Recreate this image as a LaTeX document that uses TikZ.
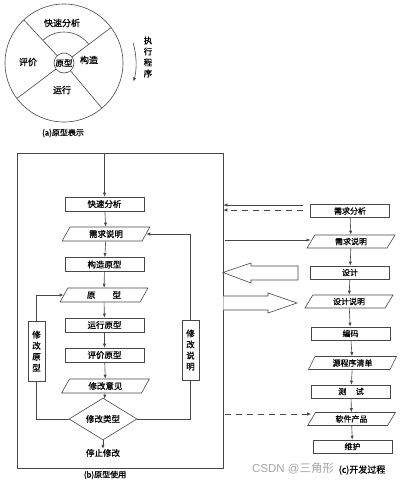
\documentclass[tikz,border=0pt]{standalone}
\usepackage{fontspec}
\setmainfont{Noto Sans CJK SC}[FakeBold=0.8]
\newfontfamily\wmfont{Liberation Sans}
\newfontfamily\wmcjk{Noto Sans CJK SC}
\usetikzlibrary{shapes.geometric,arrows.meta,calc}
\begin{document}
\begin{tikzpicture}[x=1pt,y=-1pt,
  line/.style={draw=black!72, line width=0.6pt},
  arr/.style={line, -{Latex[length=4pt,width=3.2pt]}},
  box/.style={line, rectangle, minimum width=79pt, minimum height=14pt, inner sep=0pt, font=\fontsize{8.5}{9}\selectfont},
  cbox/.style={box, minimum width=79pt, minimum height=13pt, font=\fontsize{8}{9}\selectfont},
  para/.style={line, trapezium, trapezium left angle=65, trapezium right angle=115, trapezium stretches=true, minimum width=88pt, minimum height=14pt, inner sep=0pt, font=\fontsize{8.5}{9}\selectfont},
  cpara/.style={para, minimum height=13pt, font=\fontsize{8}{9}\selectfont},
  vbox/.style={line, fill=white, rectangle, minimum width=17pt, minimum height=60pt, inner sep=0pt, align=center, font=\fontsize{8.5}{11}\selectfont},
  lbl/.style={inner sep=0pt, font=\fontsize{9}{10}\selectfont},
  captext/.style={inner sep=0pt, font=\fontsize{8}{9}\selectfont},
]
\useasboundingbox[fill=white] (0,0) rectangle (400,485);
% ---------- (a) ----------
\coordinate (c) at (64,63);
\draw[line] (c) circle[radius=59pt];
\node[line, circle, minimum size=20pt, inner sep=0pt, font=\fontsize{8.5}{9}\selectfont] (core) at (c) {原型};
\draw[line] ($(c)+(133:10pt)$) -- ($(c)+(133:59pt)$);
\draw[line] ($(c)+(-50:10pt)$) -- ($(c)+(-50:59pt)$);
\draw[line] ($(c)+(37:10pt)$) -- ($(c)+(37:59pt)$);
\draw[line] ($(c)+(217:10pt)$) -- ($(c)+(217:59pt)$);
\draw[line] ($(c)+(37:31pt)$) arc[start angle=37, end angle=133, radius=31pt];
\node[lbl] (qa) at (62,23) {快速分析};
\node[lbl] (pj) at (28,62) {评价};
\node[lbl] (gz) at (89,60) {构造};
\node[lbl] (yx) at (62,90) {运行};
\node[captext] (capa) at (63,133) {(a)原型表示};
\draw[line, -{Latex[length=4pt,width=3.2pt]}] ($(c)+(16:72pt)$) arc[start angle=16, end angle=-15, radius=72pt];
\node[lbl, align=center, font=\fontsize{8.5}{11}\selectfont] (zx) at (148,57) {执\\行\\程\\序};
% ---------- (b) ----------
\node[line, rectangle, minimum width=206pt, minimum height=315pt, inner sep=0pt] (B) at (120,310.5) {};
\coordinate (btop) at (104.5,153);
\node[box] (b1) at (104.5,204) {快速分析};
\node[para] (b2) at (106,234) {需求说明};
\node[box] (b3) at (104.5,264.5) {构造原型};
\node[para] (b4) at (104,295) {原\hspace{2em}型};
\node[box] (b5) at (104.5,325) {运行原型};
\node[box] (b6) at (104.5,355) {评价原型};
\node[para] (b7) at (105.5,386) {修改意见};
\node[line, diamond, minimum width=68pt, minimum height=24pt, inner sep=0pt, font=\fontsize{8.5}{9}\selectfont] (b8) at (103,419) {修改类型};
\node[lbl, font=\fontsize{8.5}{9}\selectfont] (b9) at (103,453) {停止修改};
\draw[arr] (btop) -- (b1);
\draw[arr] (b1) -- (b2);
\draw[arr] (b2) -- (b3);
\draw[arr] (b3) -- (b4);
\draw[arr] (b4) -- (b5);
\draw[arr] (b5) -- (b6);
\draw[arr] (b6) -- (b7);
\draw[arr] (b7) -- (b8);
\draw[arr] (b8) -- (b9);
\coordinate (lx) at (36.5,419);
\coordinate (rx) at (190.5,419);
\draw[arr] (b8.west) -- (lx) |- (b4.west);
\draw[arr] (b8.east) -- (rx) |- (b2.east);
\node[vbox] (xy) at (36.5,351) {修\\改\\原\\型};
\node[vbox] (xs) at (190.5,350) {修\\改\\说\\明};
\node[captext] (capb) at (105,475) {(b)原型使用};
% ---------- (c) ----------
\node[cbox] (c1) at (350,211) {需求分析};
\node[cpara] (c2) at (351,241.5) {需求说明};
\node[cbox] (c3) at (350,272.5) {设计};
\node[cpara] (c4) at (349,301.5) {设计说明};
\node[cbox] (c5) at (350.5,333.5) {编码};
\node[cpara] (c6) at (352.5,363) {源程序清单};
\node[cbox] (c7) at (351,391.5) {测\hspace{1.2em}试};
\node[cpara] (c8) at (351.5,419) {软件产品};
\node[cbox] (c9) at (352.5,446.5) {维护};
\draw[arr] (c1) -- (c2);
\draw[arr] (c2) -- (c3);
\draw[arr] (c3) -- (c4);
\draw[arr] (c4) -- (c5);
\draw[arr] (c5) -- (c6);
\draw[arr] (c6) -- (c7);
\draw[arr] (c7) -- (c8);
\draw[arr] (c8) -- (c9);
\node[captext, font=\fontsize{9}{10}\selectfont] (capc) at (362,470) {(c)开发过程};
% ---------- links ----------
\coordinate (s1) at (303,205);
\coordinate (s2) at (303,210);
\coordinate (s3) at (225,240);
\coordinate (s4) at (225,414);
\draw[arr] (s1) -- (B.east |- s1);
\draw[arr, dash pattern=on 6pt off 5pt] (s2) -- (B.east |- s2);
\draw[arr] (s3) -- (c2.west |- s3);
\draw[arr, dash pattern=on 6pt off 5pt] (s4) -- (c8.west |- s4);
\draw[line, fill=white] (223,272.5) -- (251,263) -- (251,266) -- (298,266) -- (298,280) -- (251,280) -- (251,283) -- cycle;
\draw[line, fill=white] (223.3,296) -- (268,296) -- (268,293) -- (297,303) -- (268,313) -- (268,310) -- (223.3,310);
% watermark
\node[inner sep=0pt, anchor=west, text=black!35, font=\wmfont\fontsize{11.5}{12}\selectfont] (wm) at (252,468) {CSDN @\wmcjk 三角形};
\end{tikzpicture}
\end{document}
